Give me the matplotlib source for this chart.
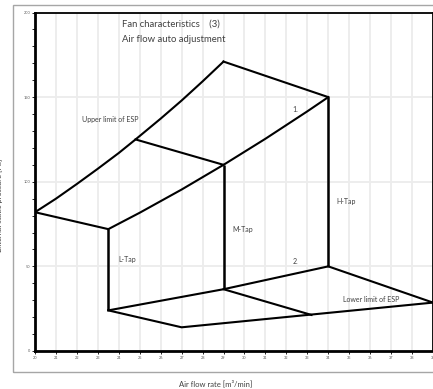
import numpy as np
import matplotlib.pyplot as plt
from matplotlib.patches import Rectangle
from matplotlib.ticker import MultipleLocator

plt.rcParams['font.family'] = ['Lato', 'DejaVu Sans']

# upper limit of ESP (curve)
upper_x = [20, 21, 22, 23, 24, 24.8, 26, 27, 28, 29]
upper_y = [82, 90, 98.7, 107.7, 117, 125, 137.3, 148, 159.3, 171]

# tap 1 curve (L-top -> M-top -> H-top)
tap1_x = [23.5, 25, 27, 29, 31, 33, 34]
tap1_y = [72, 81.7, 95.4, 110, 125.4, 141.6, 150]

# peak to H-tap top
peak_x = [29, 34]
peak_y = [171, 150]

# left edge to L-tap top
left_x = [20, 23.5]
left_y = [82, 72]

# inner upper line
inner_x = [24.8, 29]
inner_y = [125, 110]

# tap 2 line (bottoms of taps)
tap2_x = [23.5, 29, 34]
tap2_y = [24, 36.5, 50]

# lower limit of ESP
low_x = [23.5, 27, 39]
low_y = [24, 14, 28.6]
low2_x = [29, 33.2]
low2_y = [36.5, 21.3]
low3_x = [34, 39]
low3_y = [50, 28.6]

# verticals: x, bottom, top
taps_x = [23.5, 29, 34]
taps_lo = [24, 36.5, 50]
taps_hi = [72, 110, 150]

fig = plt.figure(figsize=(4.33, 3.89), dpi=100)
fig.patches.append(Rectangle((13 / 433, 1 - 372 / 389), 1.0, (372 - 5) / 389,
                             transform=fig.transFigure, fill=False,
                             edgecolor='#a6a6a6', lw=1.0))
ax = fig.add_axes([35 / 433, 1 - 351 / 389, 398 / 433, (351 - 12.5) / 389])

ax.set_xlim(20, 39)
ax.set_ylim(0, 200)
ax.set_xticks(np.arange(20, 40, 1))
ax.set_yticks([0, 50, 100, 150, 200])
ax.yaxis.set_minor_locator(MultipleLocator(10))
ax.tick_params(axis='both', which='major', labelsize=2.8, labelcolor='#595959',
               length=2, width=0.6, pad=1.5)
ax.tick_params(axis='y', which='minor', length=2, width=0.6)
ax.grid(True, axis='x', color='#ececec', lw=1.3)
ax.grid(True, axis='y', color='#ececec', lw=1.3)
ax.set_axisbelow(True)
for s in ['left', 'bottom']:
    ax.spines[s].set_linewidth(2)
for s in ['top', 'right']:
    ax.spines[s].set_linewidth(1.3)

kw = dict(color='black', lw=1.5, solid_joinstyle='miter')
ax.plot(upper_x, upper_y, **kw)
ax.plot(tap1_x, tap1_y, **kw)
ax.plot(peak_x, peak_y, **kw)
ax.plot(left_x, left_y, **kw)
ax.plot(inner_x, inner_y, **kw)
ax.plot(tap2_x, tap2_y, **kw)
ax.plot(low_x, low_y, **kw)
ax.plot(low2_x, low2_y, **kw)
ax.plot(low3_x, low3_y, **kw)
ax.vlines(taps_x, taps_lo, taps_hi, color='black', lw=1.8)

tc = '#404040'
ax.text(24.15, 193, 'Fan characteristics    (3)', fontsize=6.8, color=tc, va='center')
ax.text(24.15, 184, 'Air flow auto adjustment', fontsize=6.8, color=tc, va='center')
ax.text(22.25, 136.5, 'Upper limit of ESP', fontsize=5, color=tc, va='center')
ax.text(32.3, 142.5, '1.', fontsize=5, color=tc, va='center')
ax.text(32.3, 53, '2.', fontsize=5, color=tc, va='center')
ax.text(24.0, 54, 'L-Tap', fontsize=5, color=tc, va='center')
ax.text(29.4, 72, 'M-Tap', fontsize=5, color=tc, va='center')
ax.text(34.4, 88.5, 'H-Tap', fontsize=5, color=tc, va='center')
ax.text(34.7, 30.5, 'Lower limit of ESP', fontsize=5, color=tc, va='center')

fig.text(216 / 433, 1 - 383 / 389, 'Air flow rate [m³/min]', fontsize=5.5,
         color=tc, ha='center', va='center')
fig.text(-1 / 433, 1 - 205 / 389, 'External static pressure [Pa]', fontsize=5.5,
         color=tc, ha='center', va='center', rotation=90)

fig.savefig('out.png', dpi=100)
